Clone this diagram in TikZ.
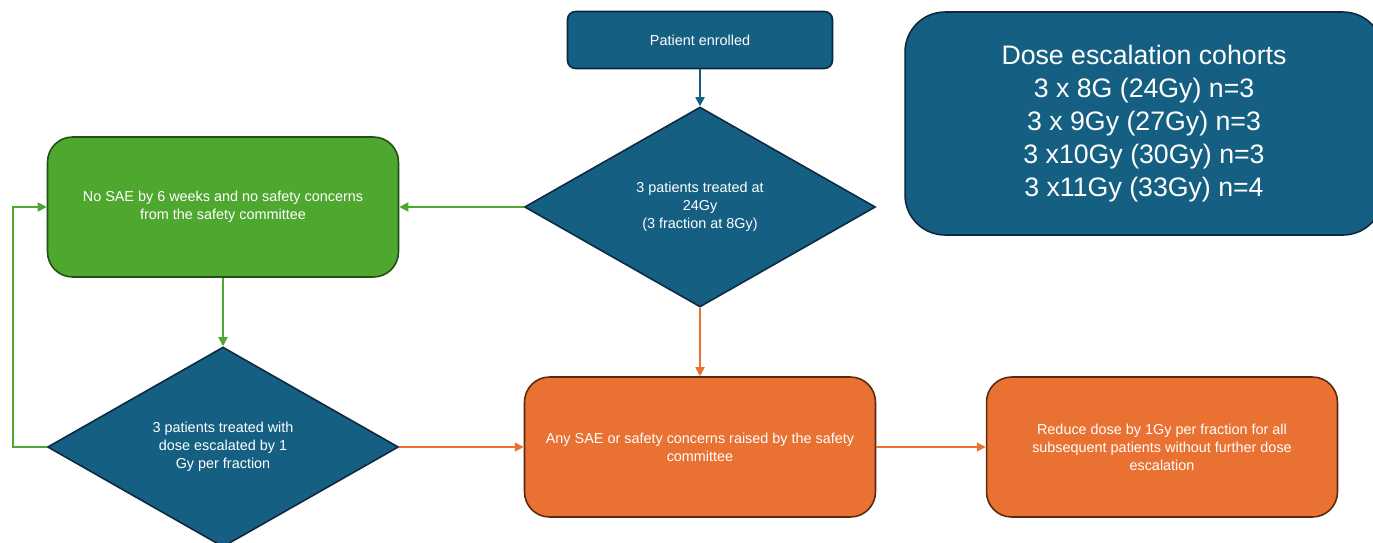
\documentclass[tikz,border=0pt]{standalone}
\usepackage{fontspec}
\setmainfont{Liberation Sans}
\usetikzlibrary{arrows.meta, shapes.geometric}
\definecolor{flowblue}{HTML}{156082}
\definecolor{flowblueline}{HTML}{0E2841}
\definecolor{flowgreen}{HTML}{4EA72E}
\definecolor{flowgreenline}{HTML}{264F16}
\definecolor{floworange}{HTML}{E97132}
\definecolor{floworangeline}{HTML}{5E2A0E}
\tikzset{
    my-box/.style={
        rectangle, rounded corners=0.5cm, line width=0.9pt, align=center,
        text=white, minimum width=7.02cm, minimum height=2.8cm,
        font=\fontsize{8.2}{10.3}\selectfont
    },
    my-blue-box/.style={my-box, draw=flowblueline, fill=flowblue},
    my-green-box/.style={my-box, draw=flowgreenline, fill=flowgreen},
    my-orange-box/.style={my-box, draw=floworangeline, fill=floworange},
    my-decision/.style={
        diamond, draw=flowblueline, fill=flowblue, line width=0.9pt,
        inner sep=0pt, align=center, text=white,
        minimum width=7.02cm, minimum height=4cm,
        font=\fontsize{8.2}{10.3}\selectfont
    },
    my-arrow/.style={line width=1pt, -{Triangle[length=1.8mm,width=1.8mm]}},
}

\begin{document}
\begin{tikzpicture}[x=0.02cm, y=-0.02cm]

        \useasboundingbox (0,0) rectangle (1373,542);

        % START, FIRST COHORT
        \node[my-blue-box, rounded corners=0.16cm, minimum width=5.3cm, minimum height=1.14cm]
            (ENROLLED) at (700,40)  {Patient enrolled};
        \node[my-decision] (TREAT24) at (700,207)
            {3 patients treated at\\24Gy\\(3 fraction at 8Gy)};

        % COHORT LIST
        \node[my-blue-box, rounded corners=0.8cm, minimum width=9.56cm, minimum height=4.46cm,
              font=\fontsize{15.2}{18.8}\selectfont]
            (COHORTS) at (1144,123.5)
            {Dose escalation cohorts\\3 x 8G (24Gy) n=3\\3 x 9Gy (27Gy) n=3\\3 x10Gy (30Gy) n=3\\3 x11Gy (33Gy) n=4};

        % ESCALATION
        \node[my-green-box] (NOSAE)  at (223,207)
            {No SAE by 6 weeks and no safety concerns\\from the safety committee};
        \node[my-decision]  (ESCAL)  at (223,447)
            {3 patients treated with\\dose escalated by 1\\Gy per fraction};

        % SAE, REDUCTION
        \node[my-orange-box] (ANYSAE) at (700,447)
            {Any SAE or safety concerns raised by the safety\\committee};
        \node[my-orange-box] (REDUCE) at (1162,447)
            {Reduce dose by 1Gy per fraction for all\\subsequent patients without further dose\\escalation};

        % LOOP CORNERS
        \coordinate (LOOPBOT) at (13,447);
        \coordinate (LOOPTOP) at (13,207);

        % CONNECTIONS
        \draw[my-arrow, flowblue]   (ENROLLED.south) -- (TREAT24.north);
        \draw[my-arrow, flowgreen]  (TREAT24.west)   -- (NOSAE.east);
        \draw[my-arrow, flowgreen]  (NOSAE.south)    -- (ESCAL.north);
        \draw[my-arrow, flowgreen]  (ESCAL.west) -- (LOOPBOT) -- (LOOPTOP) -- (NOSAE.west);
        \draw[my-arrow, floworange] (TREAT24.south)  -- (ANYSAE.north);
        \draw[my-arrow, floworange] (ESCAL.east)     -- (ANYSAE.west);
        \draw[my-arrow, floworange] (ANYSAE.east)    -- (REDUCE.west);

    \end{tikzpicture}
\end{document}
